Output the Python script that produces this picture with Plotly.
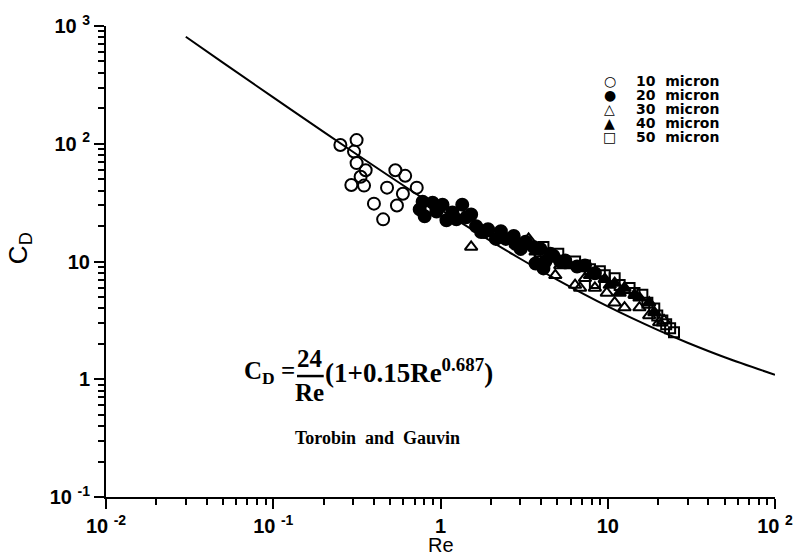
import plotly.graph_objects as go

# Correlation curve (Torobin and Gauvin): Re vs C_D
curve_re = [0.03, 0.05, 0.1, 0.2, 0.5, 1, 2, 3, 5, 10, 20, 30, 50, 100]
curve_cd = [810.8, 489.2, 247.4, 126.0, 52.47, 27.6, 14.90, 10.55, 6.975, 4.151, 2.610, 2.042, 1.538, 1.092]

# 10 micron (open circles)
re_10 = [0.252, 0.315, 0.304, 0.315, 0.357, 0.333, 0.293, 0.349, 0.537, 0.615, 0.479, 0.596, 0.721, 0.549, 0.400, 0.454, 0.947]
cd_10 = [97.5, 107.4, 85.8, 68.5, 59.6, 52.4, 44.7, 44.1, 59.6, 53.4, 42.4, 37.6, 42.4, 29.9, 31.0, 22.8, 27.7]

# 20 micron (filled circles)
re_20 = [0.782, 0.897, 1.028, 1.085, 1.349, 1.425, 0.751, 0.947, 1.178, 0.804, 1.244, 1.633, 1.923, 2.296,
         2.741, 3.228, 3.960, 4.728, 5.568, 6.555, 2.145, 3.016, 4.239, 1.525, 1.821, 4.125,
         1.748, 2.458, 2.817, 3.598, 4.538, 5.2, 7.31, 8.378, 3.70]
cd_20 = [32.2, 31.6, 30.4, 22.4, 30.4, 23.7, 27.7, 26.6, 26.1, 24.2, 22.8, 19.95, 18.8, 18.1,
         16.5, 14.7, 12.8, 11.2, 10.2, 9.08, 15.55, 12.8, 10.0, 25.1, 17.8, 8.74,
         17.8, 15.55, 14.1, 13.3, 11.66, 10.0, 9.26, 7.94, 9.62]

# 30 micron (open triangles)
re_30 = [1.525, 2.145, 3.363, 4.858, 6.378, 8.378, 12.6, 17.7, 3.96, 9.87, 21.7, 5.2, 7.31, 11.0, 15.47, 6.83, 20.3]
cd_30 = [13.3, 17.1, 15.55, 7.64, 6.31, 5.96, 4.06, 3.48, 11.66, 5.41, 3.16, 9.26, 7.22, 4.47, 4.06, 5.96, 3.04]

# 40 micron (filled triangles)
re_40 = [2.817, 3.70, 4.99, 6.83, 8.378, 11.0, 14.45, 17.7, 5.96, 9.60, 12.6, 2.296, 7.83, 10.28, 15.47, 11.78, 18.97]
cd_40 = [14.1, 12.1, 10.6, 8.74, 7.64, 6.56, 5.21, 4.47, 9.26, 7.08, 5.96, 16.5, 7.64, 6.31, 4.92, 5.41, 3.69]

# 50 micron (open squares)
re_50 = [5.06, 6.378, 7.83, 9.60, 11.78, 14.45, 17.25, 19.77, 22.35, 24.9, 8.378, 4.125, 18.97,
         7.31, 11.0, 13.5, 16.1, 21.2, 23.6, 8.97]
cd_50 = [11.66, 10.0, 8.58, 7.64, 6.31, 5.41, 4.47, 3.48, 2.93, 2.51, 6.56, 13.3, 3.98,
         9.26, 7.22, 5.96, 5.21, 3.16, 2.71, 8.25]

legend_labels = ["10  micron", "20  micron", "30  micron", "40  micron", "50  micron"]
legend_glyphs = ["\u25CB", "\u25CF", "\u25B3", "\u25B2", "\u25A1"]

x_tickvals = [0.01, 0.1, 1, 10, 100]
x_ticktext = ["10 <sup>-2</sup>", "10 <sup>-1</sup>", "1", "10", "10 <sup>2</sup>"]
y_tickvals = [0.1, 1, 10, 100, 1000]
y_ticktext = ["10 <sup>-1</sup>", "1", "10", "10 <sup>2</sup>", "10 <sup>3</sup>"]

fig = go.Figure()
fig.add_trace(go.Scatter(x=curve_re, y=curve_cd, mode="lines", line=dict(color="black", width=2, shape="spline"),
                         showlegend=False, hoverinfo="skip"))

series = [
    (re_10, cd_10, "circle-open", 12),
    (re_20, cd_20, "circle", 12),
    (re_30, cd_30, "triangle-up-open", 11),
    (re_40, cd_40, "triangle-up", 11),
    (re_50, cd_50, "square-open", 10),
]
for (xs, ys, sym, sz), name in zip(series, legend_labels):
    fig.add_trace(go.Scatter(x=xs, y=ys, mode="markers", name=name, showlegend=False,
                             marker=dict(symbol=sym, size=sz, color="black", line=dict(color="black", width=2))))

axis_common = dict(
    type="log", showgrid=False, zeroline=False, showline=True, linecolor="black", linewidth=2,
    ticks="outside", ticklen=10, tickwidth=2, tickcolor="black",
    tickfont=dict(family="Liberation Sans", size=20, color="black", weight="bold"),
    minor=dict(ticks="outside", ticklen=6, tickwidth=1.5, tickcolor="black", dtick="D1", showgrid=False),
)
fig.update_xaxes(range=[-2, 2], tickvals=x_tickvals, ticktext=x_ticktext, **axis_common)
fig.update_yaxes(range=[-1, 3], tickvals=y_tickvals, ticktext=y_ticktext, **axis_common)

W, H = 805, 556
L, R, T, B = 106, 23, 18, 59
pw, ph = W - L - R, H - T - B

def px(xp):
    return (xp - L) / pw

def py(yp):
    return (H - B - yp) / ph

ann = []
# legend
rows = [74, 88, 102, 116.5, 130.5]
for g, lab, ry in zip(legend_glyphs, legend_labels, rows):
    ann.append(dict(x=px(615), y=py(ry), xref="paper", yref="paper", text=g, showarrow=False,
                    xanchor="center", yanchor="middle", font=dict(family="DejaVu Sans", size=14, color="black")))
    ann.append(dict(x=px(640), y=py(ry), xref="paper", yref="paper", text=lab, showarrow=False,
                    xanchor="left", yanchor="middle",
                    font=dict(family="DejaVu Sans", size=14, color="black", weight="bold")))

serif = dict(family="Liberation Serif", color="black", weight="bold")
ann.append(dict(x=px(299), y=py(370), xref="paper", yref="paper", text="C<sub>D</sub> =", showarrow=False,
                xanchor="right", yanchor="middle", font=dict(size=25, **serif)))
ann.append(dict(x=px(312), y=py(356), xref="paper", yref="paper", text="24", showarrow=False,
                xanchor="center", yanchor="middle", font=dict(size=25, **serif)))
ann.append(dict(x=px(312), y=py(391), xref="paper", yref="paper", text="Re", showarrow=False,
                xanchor="center", yanchor="middle", font=dict(size=25, **serif)))
ann.append(dict(x=px(325), y=py(369), xref="paper", yref="paper", text="(1+0.15Re<sup>0.687</sup>)",
                showarrow=False, xanchor="left", yanchor="middle", font=dict(size=27, **serif)))
ann.append(dict(x=px(380), y=py(437), xref="paper", yref="paper", text="Torobin  and  Gauvin", showarrow=False,
                xanchor="center", yanchor="middle", font=dict(size=18, **serif)))
# axis titles
ann.append(dict(x=px(444), y=py(546), xref="paper", yref="paper", text="Re", showarrow=False,
                xanchor="center", yanchor="middle",
                font=dict(family="Liberation Sans", size=20, color="black")))
ann.append(dict(x=px(18), y=py(244), xref="paper", yref="paper", text="C<sub>D</sub>", showarrow=False,
                textangle=-90, xanchor="center", yanchor="middle",
                font=dict(family="Liberation Sans", size=26, color="black")))

fig.update_layout(
    width=W, height=H, margin=dict(l=L, r=R, t=T, b=B),
    paper_bgcolor="white", plot_bgcolor="white",
    annotations=ann,
    shapes=[dict(type="line", xref="paper", yref="paper", x0=px(299), x1=px(326), y0=py(374), y1=py(374),
                 line=dict(color="black", width=2.5), layer="above")],
    showlegend=False,
)

fig.write_html("out.html")
